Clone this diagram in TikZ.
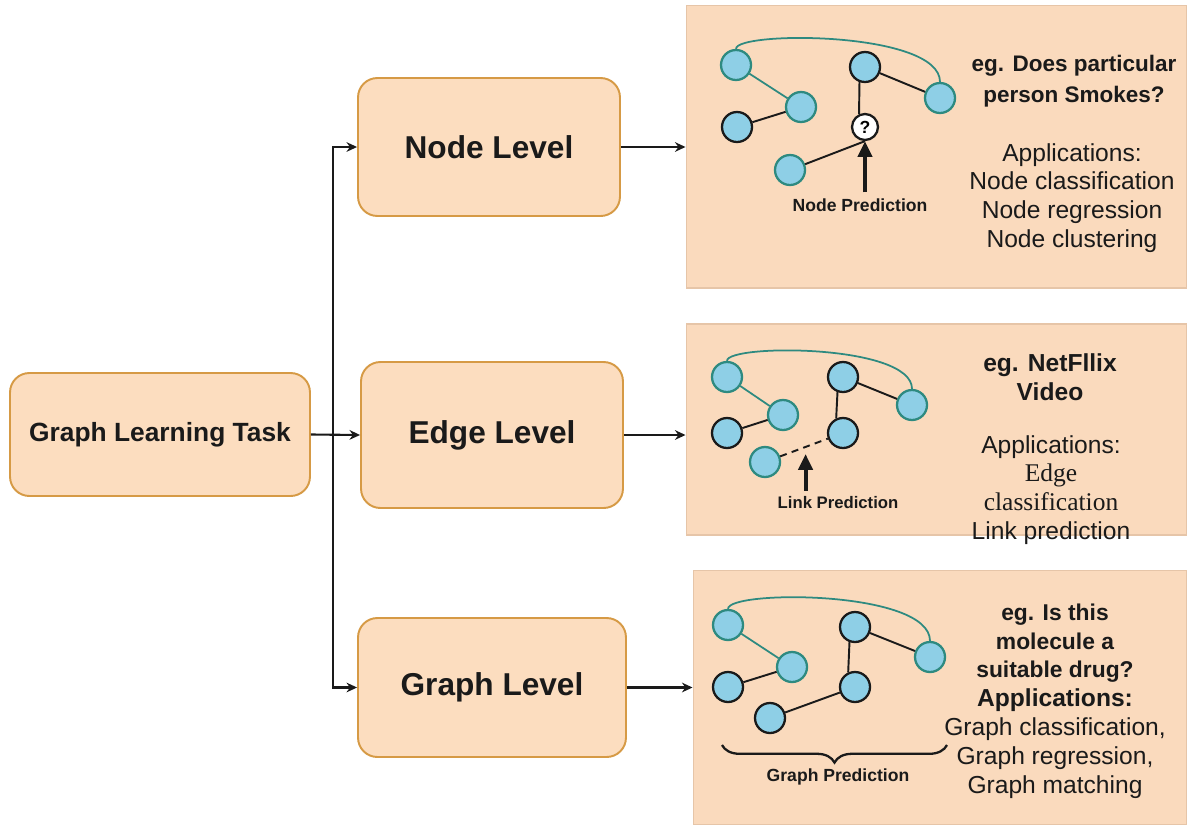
\documentclass[tikz,border=0pt]{standalone}
\usepackage{fontspec}
\setmainfont{Liberation Sans}
\newfontfamily\seriffont{Liberation Serif}
\usepackage{xcolor}
\usepackage{tikz}
\usetikzlibrary{arrows.meta,positioning,calc,decorations.pathreplacing}
\definecolor{boxfill}{HTML}{FCDDBF}
\definecolor{boxline}{HTML}{D69A45}
\definecolor{panelfill}{HTML}{FADABD}
\definecolor{panelline}{HTML}{E6C5A8}
\definecolor{nodeblue}{HTML}{8ECFE6}
\definecolor{edgeteal}{HTML}{2E8A80}
\definecolor{inkcolor}{HTML}{1A1A1A}
\newcommand{\fsz}[2]{\fontsize{#1}{#2}\selectfont}

\begin{document}
\begin{tikzpicture}[
    x=0.02cm, y=-0.02cm,
    level/.style={
        draw=boxline,
        fill=boxfill,
        line width=1.1pt,
        rounded corners=11pt,
        font=\fsz{18}{20}\bfseries,
        text=inkcolor
    },
    panel/.style={draw=panelline, fill=panelfill, line width=0.6pt, inner sep=0pt},
    arrow/.style={-{Stealth[length=6pt,width=5.5pt]}, line width=1.2pt, inkcolor},
    bigarrow/.style={-{Triangle[length=9pt,width=8pt]}, line width=2.2pt, inkcolor},
    gv/.style={circle, fill=nodeblue, draw=inkcolor, line width=1.3pt, minimum size=0.6cm, inner sep=0pt},
    gvt/.style={gv, draw=edgeteal},
    ge/.style={line width=1.1pt, inkcolor},
    gt/.style={line width=1pt, edgeteal},
    predlabel/.style={font=\fsz{10}{12}\bfseries, text=inkcolor},
    apps/.style={font=\fsz{14}{16.4}, align=center, text=inkcolor}
]
\useasboundingbox (0,0) rectangle (1187,825);

% Task and level boxes
\node[level, font=\fsz{15}{17}\bfseries, minimum width=6cm, minimum height=2.46cm] (task) at (160,434.5) {Graph Learning Task};
\node[level, minimum width=5.24cm, minimum height=2.76cm] (nl) at (489,147) {Node Level};
\node[level, minimum width=5.24cm, minimum height=2.92cm] (el) at (492,435) {Edge Level};
\node[level, minimum width=5.36cm, minimum height=2.78cm] (gl) at (492,687.5) {Graph Level};

% Example panels on the right
\node[panel, minimum width=10.02cm, minimum height=5.66cm] (p1) at (936.5,146.5) {};
\node[panel, minimum width=10.02cm, minimum height=4.22cm] (p2) at (936.5,429.5) {};
\node[panel, minimum width=9.88cm, minimum height=5.1cm] (p3) at (940,697.5) {};

% Arrows from the task to the levels
\coordinate (split) at ($(task.east)!0.45!(el.west)$);
\draw[arrow] (task.east) -- (el.west);
\draw[arrow] (split) |- (nl.west);
\draw[arrow] (split) |- (gl.west);

% Arrows from the levels to the panels
\draw[arrow] (nl.east) -- (nl.east -| p1.west);
\draw[arrow] (el.east) -- (el.east -| p2.west);
\draw[arrow] (gl.east) -- (gl.east -| p3.west);

% Panel 1: node prediction
\node[gvt] (n1) at (736,65) {};
\node[gvt] (n2) at (801,107) {};
\node[gv]  (n3) at (737,127) {};
\node[gv]  (n4) at (865,67) {};
\node[gvt] (n5) at (940,98) {};
\node[gvt] (n6) at (790,170) {};
\node[gv, fill=white, minimum size=0.52cm, font=\fsz{10}{12}\bfseries] (q) at (865,127) {?};
\draw[gt] (n1) -- (n2);
\draw[ge] (n3) -- (n2);
\draw[ge] (n4.250) -- (q.115);
\draw[ge] (n4) -- (n5);
\draw[ge] (n6) -- (q.south);
\draw[gt] (n1.north) .. controls +(0,-18) and +(0,-51) .. (n5.north);
\node[predlabel] (npred) at (860,205) {Node Prediction};
\draw[bigarrow] (npred.north -| q) -- (q.south);
\node[apps, font=\fsz{12.8}{18}\bfseries] (q1) at (1074,81) {eg. Does particular\\person Smokes?};
\node[apps] (a1) at (1072,198) {Applications:\\Node classification\\Node regression\\Node clustering};

% Panel 2: link prediction
\node[gvt] (m1) at (727,377) {};
\node[gvt] (m2) at (783,415) {};
\node[gv]  (m3) at (727,433) {};
\node[gv]  (m4) at (843,377) {};
\node[gvt] (m5) at (912,405) {};
\node[gv]  (m6) at (843,433) {};
\node[gvt] (m7) at (765,462) {};
\draw[gt] (m1) -- (m2);
\draw[ge] (m3) -- (m2);
\draw[ge] (m4.250) -- (m6.115);
\draw[ge] (m4) -- (m5);
\draw[ge, dashed, dash pattern=on 4pt off 3pt] (m7) -- (m6);
\draw[gt] (m1.north) .. controls +(0,-17) and +(0,-45) .. (m5.north);
\coordinate (lk) at ($(m7)!0.52!(m6)$);
\node[predlabel, font=\fsz{9.5}{12}\bfseries] (lpred) at (838,503) {Link Prediction};
\draw[bigarrow] (lpred.north -| lk) -- ([yshift=-4pt]lk);
\node[apps, font=\fsz{14}{16.5}\bfseries] (q2) at (1050,377) {eg. NetFllix\\Video};
\node[apps] (a2) at (1051,490) {Applications:\\{\seriffont\fsz{14.5}{16.4}Edge}\\{\seriffont\fsz{14.5}{16.4}classification}\\Link prediction};

% Panel 3: graph prediction
\node[gvt] (g1) at (728,625) {};
\node[gvt] (g2) at (792,667) {};
\node[gv]  (g3) at (728,687) {};
\node[gv]  (g4) at (855,627) {};
\node[gvt] (g5) at (930,657) {};
\node[gv]  (g6) at (855,687) {};
\node[gv]  (g7) at (770,718) {};
\draw[gt] (g1) -- (g2);
\draw[ge] (g3) -- (g2);
\draw[ge] (g4.250) -- (g6.115);
\draw[ge] (g4) -- (g5);
\draw[ge] (g7) -- (g6);
\draw[gt] (g1.north) .. controls +(0,-19) and +(0,-51) .. (g5.north);
\coordinate (bl) at (722,745);
\coordinate (br) at (947,745);
\draw[ge, line width=1.3pt, decorate, decoration={brace, mirror, amplitude=10pt}] (bl) -- (br);
\node[predlabel] (gpred) at (838,777) {Graph Prediction};
\node[apps] (a3) at (1055,701) {{\bfseries\fsz{13}{16.3}eg. Is this}\\{\bfseries\fsz{13}{16.3}molecule a}\\{\bfseries\fsz{13}{16.3}suitable drug?}\\{\bfseries Applications:}\\Graph classification,\\Graph regression,\\Graph matching};

\end{tikzpicture}
\end{document}
